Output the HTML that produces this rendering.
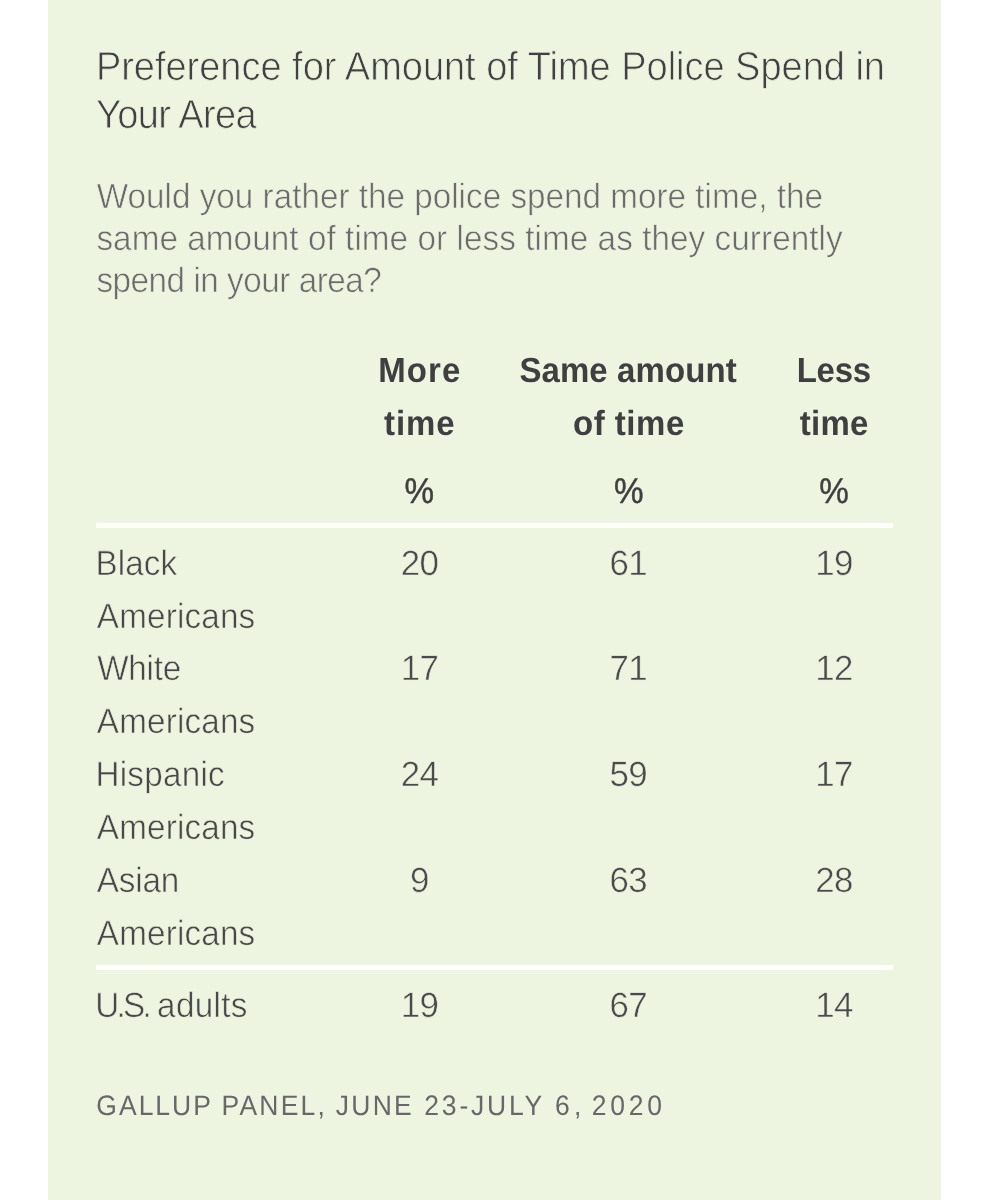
<!DOCTYPE html>
<html lang="en">
<head>
<meta charset="utf-8">
<title>Preference for Amount of Time Police Spend in Your Area</title>
<style>
html,body{margin:0;padding:0;background:#fff;}
body{width:988px;height:1200px;position:relative;overflow:hidden;font-family:"Liberation Sans",sans-serif;}
#panel{position:absolute;left:48px;top:0;width:893px;height:1200px;background:#edf4e0;}
.rule{position:absolute;left:96px;width:797px;height:5px;background:#fff;}
#txt{position:absolute;left:0;top:0;width:988px;height:1200px;will-change:transform;}
.t{text-rendering:geometricPrecision;position:absolute;white-space:pre;line-height:1;margin:0;padding:0;transform-origin:0 84.67%;}
</style>
</head>
<body>
<div id="panel"></div>
<div class="rule" style="top:523px"></div>
<div class="rule" style="top:965px"></div>
<div id="txt">
<div class="t" id="t1" style="left:95.88px;top:48.83px;font-size:38px;color:#414141;letter-spacing:-0.02px;-webkit-text-stroke:0.75px #edf4e0;transform:scaleY(1.0626);">Preference for Amount of Time Police Spend in</div>
<div class="t" id="t2" style="left:96.03px;top:96.83px;font-size:38px;color:#414141;letter-spacing:-0.62px;-webkit-text-stroke:0.75px #edf4e0;transform:scaleY(1.0626);">Your Area</div>
<div class="t" id="s1" style="left:96.73px;top:180.85px;font-size:33.25px;color:#6b6b6b;letter-spacing:0.01px;-webkit-text-stroke:0.6px #edf4e0;transform:scaleY(1.0534);">Would you rather the police spend more time, the</div>
<div class="t" id="s2" style="left:96.38px;top:222.85px;font-size:33.25px;color:#6b6b6b;letter-spacing:0.07px;-webkit-text-stroke:0.6px #edf4e0;transform:scaleY(1.0534);">same amount of time or less time as they currently</div>
<div class="t" id="s3" style="left:96.38px;top:264.85px;font-size:33.25px;color:#6b6b6b;letter-spacing:-0.47px;-webkit-text-stroke:0.6px #edf4e0;transform:scaleY(1.0534);">spend in your area?</div>
<div class="t" id="h1a" style="left:378.16px;top:354.06px;font-size:33px;color:#3f3f3f;font-weight:700;letter-spacing:1.14px;transform:scaleY(1.057);">More</div>
<div class="t" id="h1b" style="left:383.97px;top:407.06px;font-size:33px;color:#3f3f3f;font-weight:700;letter-spacing:0.93px;transform:scaleY(1.057);">time</div>
<div class="t" id="h2a" style="left:519.4px;top:354.06px;font-size:33px;color:#3f3f3f;font-weight:700;letter-spacing:0.09px;transform:scaleY(1.057);">Same amount</div>
<div class="t" id="h2b" style="left:573.01px;top:407.06px;font-size:33px;color:#3f3f3f;font-weight:700;letter-spacing:0.51px;transform:scaleY(1.057);">of time</div>
<div class="t" id="h3a" style="left:796.64px;top:354.06px;font-size:33px;color:#3f3f3f;font-weight:700;letter-spacing:-0.23px;transform:scaleY(1.057);">Less</div>
<div class="t" id="h3b" style="left:799.76px;top:407.06px;font-size:33px;color:#3f3f3f;font-weight:700;letter-spacing:0.24px;transform:scaleY(1.057);">time</div>
<div class="t" id="p1" style="left:404.42px;top:475.85px;font-size:33.25px;color:#404040;-webkit-text-stroke:0.45px #404040;transform:scaleY(1.0713);">%</div>
<div class="t" id="p2" style="left:613.92px;top:475.85px;font-size:33.25px;color:#404040;-webkit-text-stroke:0.45px #404040;transform:scaleY(1.0712);">%</div>
<div class="t" id="p3" style="left:819.21px;top:475.85px;font-size:33.25px;color:#404040;-webkit-text-stroke:0.45px #404040;transform:scaleY(1.0707);">%</div>
<div class="t" id="r0a" style="left:95.45px;top:547.85px;font-size:33.25px;color:#484848;letter-spacing:0.1px;-webkit-text-stroke:0.55px #edf4e0;transform:scaleY(1.0552);">Black</div>
<div class="t" id="r0b" style="left:96.83px;top:600.85px;font-size:33.25px;color:#484848;letter-spacing:0.17px;-webkit-text-stroke:0.55px #edf4e0;transform:scaleY(1.0552);">Americans</div>
<div class="t" id="r0c1" style="left:400.65px;top:547.45px;font-size:34.9px;color:#4a4a4a;letter-spacing:-0.5px;-webkit-text-stroke:0.5px #edf4e0;transform:scaleY(1.0058);">20</div>
<div class="t" id="r0c2" style="left:609.45px;top:547.45px;font-size:34.9px;color:#4a4a4a;letter-spacing:-0.5px;-webkit-text-stroke:0.5px #edf4e0;transform:scaleY(1.0058);">61</div>
<div class="t" id="r0c3" style="left:815.15px;top:547.45px;font-size:34.9px;color:#4a4a4a;letter-spacing:-0.5px;-webkit-text-stroke:0.5px #edf4e0;transform:scaleY(1.0058);">19</div>
<div class="t" id="r1a" style="left:97.15px;top:652.85px;font-size:33.25px;color:#484848;letter-spacing:-0.21px;-webkit-text-stroke:0.55px #edf4e0;transform:scaleY(1.0552);">White</div>
<div class="t" id="r1b" style="left:96.83px;top:705.85px;font-size:33.25px;color:#484848;letter-spacing:0.17px;-webkit-text-stroke:0.55px #edf4e0;transform:scaleY(1.0552);">Americans</div>
<div class="t" id="r1c1" style="left:400.65px;top:652.45px;font-size:34.9px;color:#4a4a4a;letter-spacing:-0.5px;-webkit-text-stroke:0.5px #edf4e0;transform:scaleY(1.0058);">17</div>
<div class="t" id="r1c2" style="left:609.45px;top:652.45px;font-size:34.9px;color:#4a4a4a;letter-spacing:-0.5px;-webkit-text-stroke:0.5px #edf4e0;transform:scaleY(1.0058);">71</div>
<div class="t" id="r1c3" style="left:815.15px;top:652.45px;font-size:34.9px;color:#4a4a4a;letter-spacing:-0.5px;-webkit-text-stroke:0.5px #edf4e0;transform:scaleY(1.0058);">12</div>
<div class="t" id="r2a" style="left:95.45px;top:758.85px;font-size:33.25px;color:#484848;letter-spacing:0.24px;-webkit-text-stroke:0.55px #edf4e0;transform:scaleY(1.0552);">Hispanic</div>
<div class="t" id="r2b" style="left:96.83px;top:811.85px;font-size:33.25px;color:#484848;letter-spacing:0.17px;-webkit-text-stroke:0.55px #edf4e0;transform:scaleY(1.0552);">Americans</div>
<div class="t" id="r2c1" style="left:400.65px;top:758.45px;font-size:34.9px;color:#4a4a4a;letter-spacing:-0.5px;-webkit-text-stroke:0.5px #edf4e0;transform:scaleY(1.0058);">24</div>
<div class="t" id="r2c2" style="left:609.45px;top:758.45px;font-size:34.9px;color:#4a4a4a;letter-spacing:-0.5px;-webkit-text-stroke:0.5px #edf4e0;transform:scaleY(1.0058);">59</div>
<div class="t" id="r2c3" style="left:815.15px;top:758.45px;font-size:34.9px;color:#4a4a4a;letter-spacing:-0.5px;-webkit-text-stroke:0.5px #edf4e0;transform:scaleY(1.0058);">17</div>
<div class="t" id="r3a" style="left:96.83px;top:864.85px;font-size:33.25px;color:#484848;letter-spacing:-0.2px;-webkit-text-stroke:0.55px #edf4e0;transform:scaleY(1.0552);">Asian</div>
<div class="t" id="r3b" style="left:96.83px;top:917.85px;font-size:33.25px;color:#484848;letter-spacing:0.17px;-webkit-text-stroke:0.55px #edf4e0;transform:scaleY(1.0552);">Americans</div>
<div class="t" id="r3c1" style="left:410.1px;top:864.45px;font-size:34.9px;color:#4a4a4a;letter-spacing:-0.5px;-webkit-text-stroke:0.5px #edf4e0;transform:scaleY(1.0058);">9</div>
<div class="t" id="r3c2" style="left:609.45px;top:864.45px;font-size:34.9px;color:#4a4a4a;letter-spacing:-0.5px;-webkit-text-stroke:0.5px #edf4e0;transform:scaleY(1.0058);">63</div>
<div class="t" id="r3c3" style="left:815.15px;top:864.45px;font-size:34.9px;color:#4a4a4a;letter-spacing:-0.5px;-webkit-text-stroke:0.5px #edf4e0;transform:scaleY(1.0058);">28</div>
<div class="t" id="u0a" style="left:95.36px;top:989.85px;font-size:33.25px;color:#484848;letter-spacing:-2.77px;-webkit-text-stroke:0.55px #edf4e0;transform:scaleY(1.0552);">U.S.</div>
<div class="t" id="u0b" style="left:157.12px;top:989.85px;font-size:33.25px;color:#484848;letter-spacing:0.33px;-webkit-text-stroke:0.55px #edf4e0;transform:scaleY(1.0552);">adults</div>
<div class="t" id="u1" style="left:400.65px;top:989.45px;font-size:34.9px;color:#4a4a4a;letter-spacing:-0.5px;-webkit-text-stroke:0.5px #edf4e0;transform:scaleY(1.0058);">19</div>
<div class="t" id="u2" style="left:609.45px;top:989.45px;font-size:34.9px;color:#4a4a4a;letter-spacing:-0.5px;-webkit-text-stroke:0.5px #edf4e0;transform:scaleY(1.0058);">67</div>
<div class="t" id="u3" style="left:815.15px;top:989.45px;font-size:34.9px;color:#4a4a4a;letter-spacing:-0.5px;-webkit-text-stroke:0.5px #edf4e0;transform:scaleY(1.0058);">14</div>
<div class="t" id="f0" style="left:96.37px;top:1092.56px;font-size:26.5px;color:#686868;letter-spacing:1.99px;transform:scaleY(1.0634);">GALLUP</div>
<div class="t" id="f1" style="left:221.61px;top:1092.56px;font-size:26.5px;color:#686868;letter-spacing:2.17px;transform:scaleY(1.0635);">PANEL,</div>
<div class="t" id="f2" style="left:335.73px;top:1092.56px;font-size:26.5px;color:#686868;letter-spacing:2.29px;transform:scaleY(1.0635);">JUNE</div>
<div class="t" id="f3" style="left:424.32px;top:1092.56px;font-size:26.5px;color:#686868;letter-spacing:2.8px;transform:scaleY(1.0634);">23-JULY</div>
<div class="t" id="f4" style="left:555.08px;top:1092.56px;font-size:26.5px;color:#686868;letter-spacing:4.27px;transform:scaleY(1.0635);">6,</div>
<div class="t" id="f5" style="left:591.78px;top:1092.56px;font-size:26.5px;color:#686868;letter-spacing:3.78px;transform:scaleY(1.0635);">2020</div>
</div>
</body>
</html>
